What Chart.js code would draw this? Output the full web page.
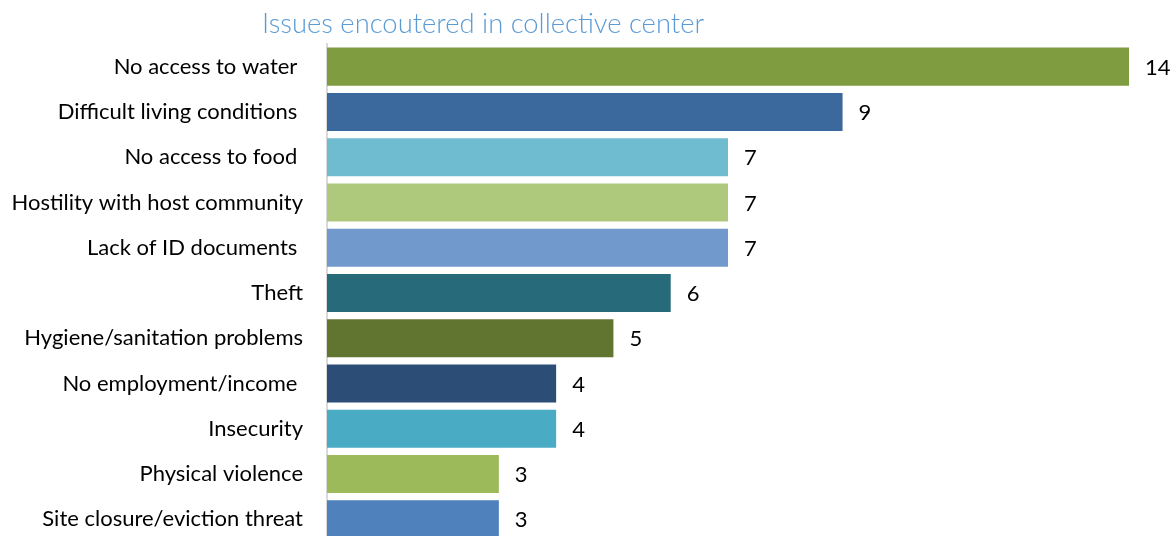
<!DOCTYPE html>
<html>
<head>
<meta charset="utf-8">
<script src="https://cdn.jsdelivr.net/npm/chart.js@4"></script>
<style>
    html, body { margin: 0; padding: 0; background: #fff; overflow: hidden; }
    #wrap { position: relative; width: 1172px; height: 542px; }
    #title {
        position: absolute; left: 262px; top: 6px;
        font-family: Lato, sans-serif; font-weight: 300; font-size: 27.4px;
        color: #5B9BD5; white-space: nowrap;
    }
</style>
</head>
<body>
<div id="wrap">
    <div id="title">Issues encoutered in collective center</div>
    <canvas id="myChart" width="1172" height="542" style="width:1172px;height:542px"></canvas>
</div>
<script>
// Categories and counts
var categories = [
    'No access to water ',
    'Difficult living conditions ',
    'No access to food ',
    'Hostility with host community',
    'Lack of ID documents ',
    'Theft',
    'Hygiene/sanitation problems',
    'No employment/income ',
    'Insecurity',
    'Physical violence',
    'Site closure/eviction threat'
];
var counts = [14, 9, 7, 7, 7, 6, 5, 4, 4, 3, 3];
var barColors = [
    '#7F9C41', '#3B699D', '#6FBCD0', '#AFC97C', '#7299CB', '#276A79',
    '#617530', '#2C4D76', '#4AABC5', '#9CBA5A', '#4F81BD'
];

// Write the number right of each bar
var valueLabels = {
    id: 'valueLabels',
    afterDatasetsDraw: function (chart) {
        var ctx = chart.ctx;
        var meta = chart.getDatasetMeta(0);
        ctx.save();
        ctx.font = '22px Lato, sans-serif';
        ctx.fillStyle = '#000';
        ctx.textAlign = 'left';
        ctx.textBaseline = 'middle';
        meta.data.forEach(function (bar, i) {
            ctx.fillText(counts[i], bar.x + 16, bar.y + 1);
        });
        ctx.restore();
    }
};

var ctx = document.getElementById('myChart').getContext('2d');
var myChart = new Chart(ctx, {
    type: 'bar',
    data: {
        labels: categories,
        datasets: [{
            data: counts,
            backgroundColor: barColors,
            borderWidth: 0,
            barPercentage: 0.84,
            categoryPercentage: 1.0
        }]
    },
    options: {
        indexAxis: 'y',
        responsive: false,
        maintainAspectRatio: false,
        animation: false,
        layout: { padding: { top: 44, right: 43, left: 0, bottom: 0 } },
        plugins: {
            legend: { display: false },
            tooltip: { enabled: false }
        },
        scales: {
            x: {
                min: 0,
                max: 14,
                display: false
            },
            y: {
                afterFit: function (scale) {
                    // fixed label column, and no extra room above/below
                    scale.width = 327;
                    scale.paddingTop = 0;
                    scale.paddingBottom = 0;
                },
                grid: { display: false, drawTicks: false },
                border: { display: true, color: '#D9D9D9', width: 2 },
                ticks: {
                    color: '#000',
                    padding: 24,
                    font: { family: 'Lato, sans-serif', size: 22 }
                }
            }
        }
    },
    plugins: [valueLabels]
});
</script>
</body>
</html>
